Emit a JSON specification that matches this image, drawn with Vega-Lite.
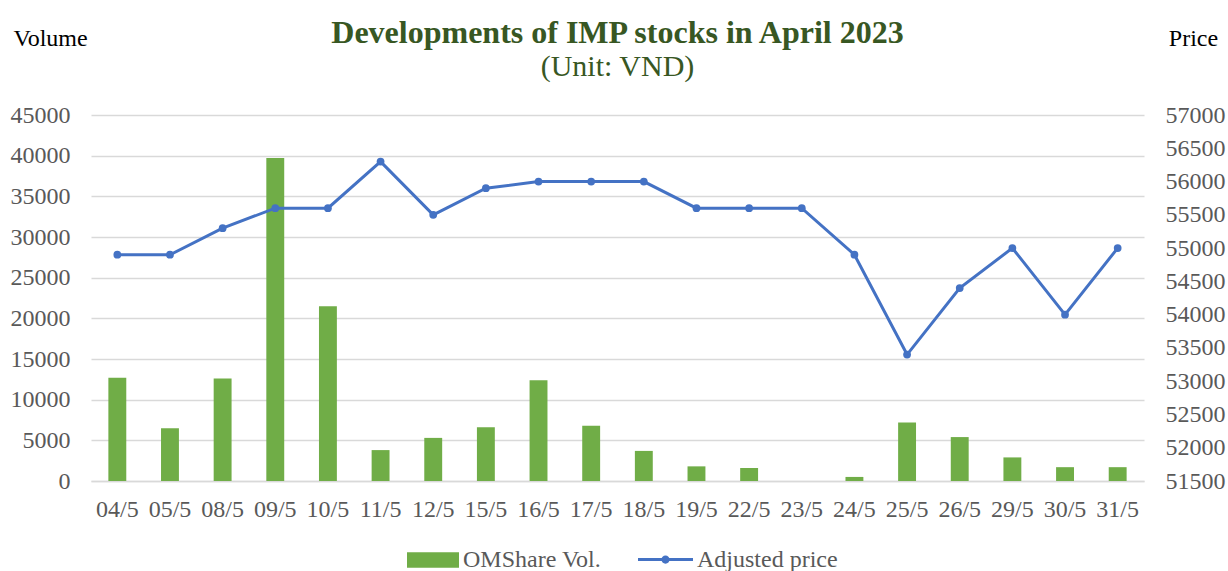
{
  "$schema": "https://vega.github.io/schema/vega-lite/v6.json",
  "width": 1053,
  "height": 366,
  "autosize": {"type": "none"},
  "padding": {"left": 91, "top": 115, "right": 84, "bottom": 90},
  "background": "white",
  "config": {
    "font": "Liberation Serif",
    "view": {"stroke": null},
    "axis": {"labelFont": "Liberation Serif", "titleFont": "Liberation Serif"}
  },
  "title": {
    "text": "Developments of IMP stocks in April 2023",
    "subtitle": "(Unit: VND)",
    "font": "Liberation Serif",
    "fontSize": 32,
    "fontWeight": "bold",
    "color": "#385723",
    "subtitleFont": "Liberation Serif",
    "subtitleFontSize": 30,
    "subtitleColor": "#385723",
    "subtitlePadding": 2,
    "anchor": "middle",
    "frame": "group",
    "offset": -57
  },
  "data": {
    "values": [
      {"date": "04/5", "volume": 12700, "price": 54900},
      {"date": "05/5", "volume": 6500, "price": 54900},
      {"date": "08/5", "volume": 12600, "price": 55300},
      {"date": "09/5", "volume": 39700, "price": 55600},
      {"date": "10/5", "volume": 21500, "price": 55600},
      {"date": "11/5", "volume": 3800, "price": 56300},
      {"date": "12/5", "volume": 5300, "price": 55500},
      {"date": "15/5", "volume": 6600, "price": 55900},
      {"date": "16/5", "volume": 12400, "price": 56000},
      {"date": "17/5", "volume": 6800, "price": 56000},
      {"date": "18/5", "volume": 3700, "price": 56000},
      {"date": "19/5", "volume": 1800, "price": 55600},
      {"date": "22/5", "volume": 1600, "price": 55600},
      {"date": "23/5", "volume": 0, "price": 55600},
      {"date": "24/5", "volume": 500, "price": 54900},
      {"date": "25/5", "volume": 7200, "price": 53400},
      {"date": "26/5", "volume": 5400, "price": 54400},
      {"date": "29/5", "volume": 2900, "price": 55000},
      {"date": "30/5", "volume": 1700, "price": 54000},
      {"date": "31/5", "volume": 1700, "price": 55000}
    ]
  },
  "encoding": {
    "x": {
      "field": "date",
      "type": "ordinal",
      "sort": null,
      "scale": {"paddingInner": 0.66, "paddingOuter": 0.33},
      "axis": {
        "title": null,
        "labelAngle": 0,
        "labelFontSize": 24,
        "labelColor": "#595959",
        "labelPadding": 16,
        "ticks": false,
        "domainColor": "#D9D9D9",
        "domainWidth": 1.3,
        "grid": false
      }
    }
  },
  "layer": [
    {
      "mark": {"type": "bar"},
      "encoding": {
        "y": {
          "field": "volume",
          "type": "quantitative",
          "scale": {"domain": [0, 45000], "nice": false},
          "axis": {
            "values": [0, 5000, 10000, 15000, 20000, 25000, 30000, 35000, 40000, 45000],
            "format": "d",
            "title": "Volume",
            "titleAngle": 0,
            "titleAlign": "center",
            "titleBaseline": "middle",
            "titleX": -41,
            "titleY": -77,
            "titleFontSize": 24,
            "titleFontWeight": "normal",
            "titleColor": "#000000",
            "labelFontSize": 24,
            "labelColor": "#595959",
            "labelPadding": 21,
            "ticks": false,
            "domain": false,
            "grid": true,
            "gridColor": "#D9D9D9",
            "gridWidth": 1.3
          }
        },
        "fill": {
          "datum": "OMShare Vol.",
          "scale": {"range": ["#70AD47"]},
          "legend": {
            "orient": "none",
            "legendX": 316,
            "legendY": 419,
            "title": null,
            "symbolType": "M-1,-0.3L1,-0.3L1,0.3L-1,0.3Z",
            "symbolSize": 2704,
            "symbolStrokeWidth": 0,
            "labelFont": "Liberation Serif",
            "labelFontSize": 24,
            "labelColor": "#595959",
            "labelOffset": 4
          }
        }
      }
    },
    {
      "mark": {"type": "line", "strokeWidth": 3},
      "encoding": {
        "y": {
          "field": "price",
          "type": "quantitative",
          "scale": {"domain": [51500, 57000], "nice": false, "zero": false},
          "axis": {
            "orient": "right",
            "values": [51500, 52000, 52500, 53000, 53500, 54000, 54500, 55000, 55500, 56000, 56500, 57000],
            "format": "d",
            "title": "Price",
            "titleAngle": 0,
            "titleAlign": "center",
            "titleBaseline": "middle",
            "titleX": 49,
            "titleY": -77,
            "titleFontSize": 24,
            "titleFontWeight": "normal",
            "titleColor": "#000000",
            "labelFontSize": 24,
            "labelColor": "#595959",
            "labelPadding": 21,
            "ticks": false,
            "domain": false,
            "grid": false
          }
        },
        "stroke": {
          "datum": "Adjusted price",
          "scale": {"range": ["#4472C4"]},
          "legend": {
            "orient": "none",
            "legendX": 547,
            "legendY": 417,
            "title": null,
            "symbolType": "M-1,-0.055L1,-0.055L1,0.055L-1,0.055Z M-0.15,0 A0.15,0.15 0 1,1 0.15,0 A0.15,0.15 0 1,1 -0.15,0Z",
            "symbolSize": 3025,
            "symbolFillColor": "#4472C4",
            "symbolStrokeWidth": 0,
            "labelFont": "Liberation Serif",
            "labelFontSize": 24,
            "labelColor": "#595959",
            "labelOffset": 4,
            "encode": {"symbols": {"update": {"fill": {"value": "#4472C4"}, "fillOpacity": {"value": 1}, "strokeWidth": {"value": 0}}}}
          }
        }
      }
    },
    {
      "mark": {"type": "point", "filled": true, "size": 60, "color": "#4472C4", "opacity": 1},
      "encoding": {
        "y": {"field": "price", "type": "quantitative", "scale": {"domain": [51500, 57000], "nice": false, "zero": false}, "axis": null}
      }
    }
  ],
  "resolve": {"scale": {"y": "independent", "fill": "independent", "stroke": "independent"}}
}
